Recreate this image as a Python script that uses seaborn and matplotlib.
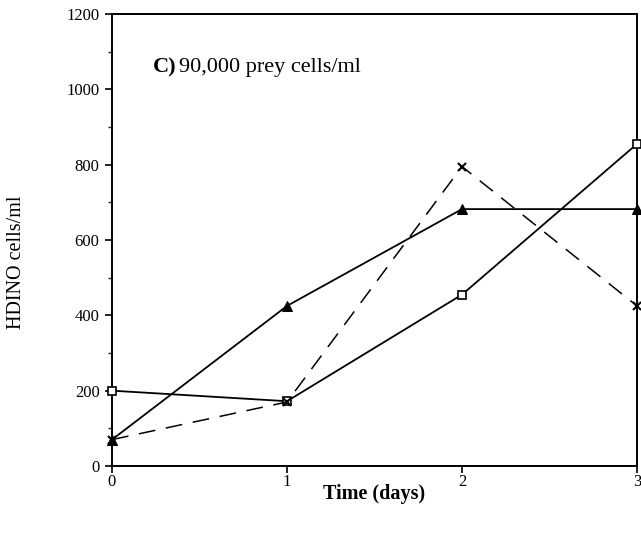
import matplotlib
matplotlib.use("Agg")
import matplotlib.pyplot as plt
from matplotlib.ticker import MultipleLocator
import seaborn as sns
import pandas as pd

days = [0, 1, 2, 3]
square_vals = [200, 172, 455, 855]
triangle_vals = [70, 425, 682, 682]
cross_vals = [70, 170, 795, 425]

sns.set_theme(style="ticks")
plt.rcParams['font.family'] = ['Liberation Serif', 'DejaVu Serif']
plt.rcParams['text.color'] = 'black'
plt.rcParams['axes.labelcolor'] = 'black'

fig = plt.figure(figsize=(6.41, 5.37), dpi=100)
ax = fig.add_axes([112/641, 1-466/537, (637-112)/641, (466-14)/537])

df_sq = pd.DataFrame({"day": days, "val": square_vals})
df_tr = pd.DataFrame({"day": days, "val": triangle_vals})
df_x = pd.DataFrame({"day": days, "val": cross_vals})

sns.lineplot(data=df_sq, x="day", y="val", ax=ax, color="black", lw=1.3,
             marker="s", markersize=5.5, markerfacecolor="white",
             markeredgecolor="black", markeredgewidth=1.2, zorder=3, clip_on=False)
sns.lineplot(data=df_tr, x="day", y="val", ax=ax, color="black", lw=1.3,
             marker="^", markersize=6.5, markerfacecolor="black",
             markeredgecolor="black", zorder=3, clip_on=False)
sns.lineplot(data=df_x, x="day", y="val", ax=ax, color="black", lw=1.1,
             marker="x", markersize=6, markeredgewidth=1.5,
             markeredgecolor="black", zorder=3, clip_on=False)
ax.lines[-1].set_dashes([11, 7])

ax.set_xlim(0, 3)
ax.set_ylim(0, 1200)
ax.set_xticks(days)
ax.set_yticks(range(0, 1201, 200))
ax.yaxis.set_minor_locator(MultipleLocator(100))
ax.tick_params(axis='both', which='major', direction='out', length=5, width=1.2,
               labelsize=12, colors='black', labelcolor='black')
ax.tick_params(axis='x', which='major', pad=1)
ax.tick_params(axis='y', which='major', pad=4)
ax.tick_params(axis='y', which='minor', direction='out', length=3, width=1.0)
for s in ax.spines.values():
    s.set_visible(True)
    s.set_color('black')
    s.set_linewidth(1.4)

ax.set_xlabel("Time (days)", fontsize=14.5, fontweight='bold', color='black')
ax.xaxis.set_label_coords(0.5, -0.04)
ax.set_ylabel("HDINO cells/ml", fontsize=14.5, color='black')
ax.yaxis.set_label_coords(-0.163, 0.45)

ax.text(0.235, 1059, "C)", fontsize=16, fontweight='bold', va='center', ha='left', color='black')
ax.text(0.385, 1059, "90,000 prey cells/ml", fontsize=16, va='center', ha='left', color='black')

fig.savefig("out.png", dpi=100)
